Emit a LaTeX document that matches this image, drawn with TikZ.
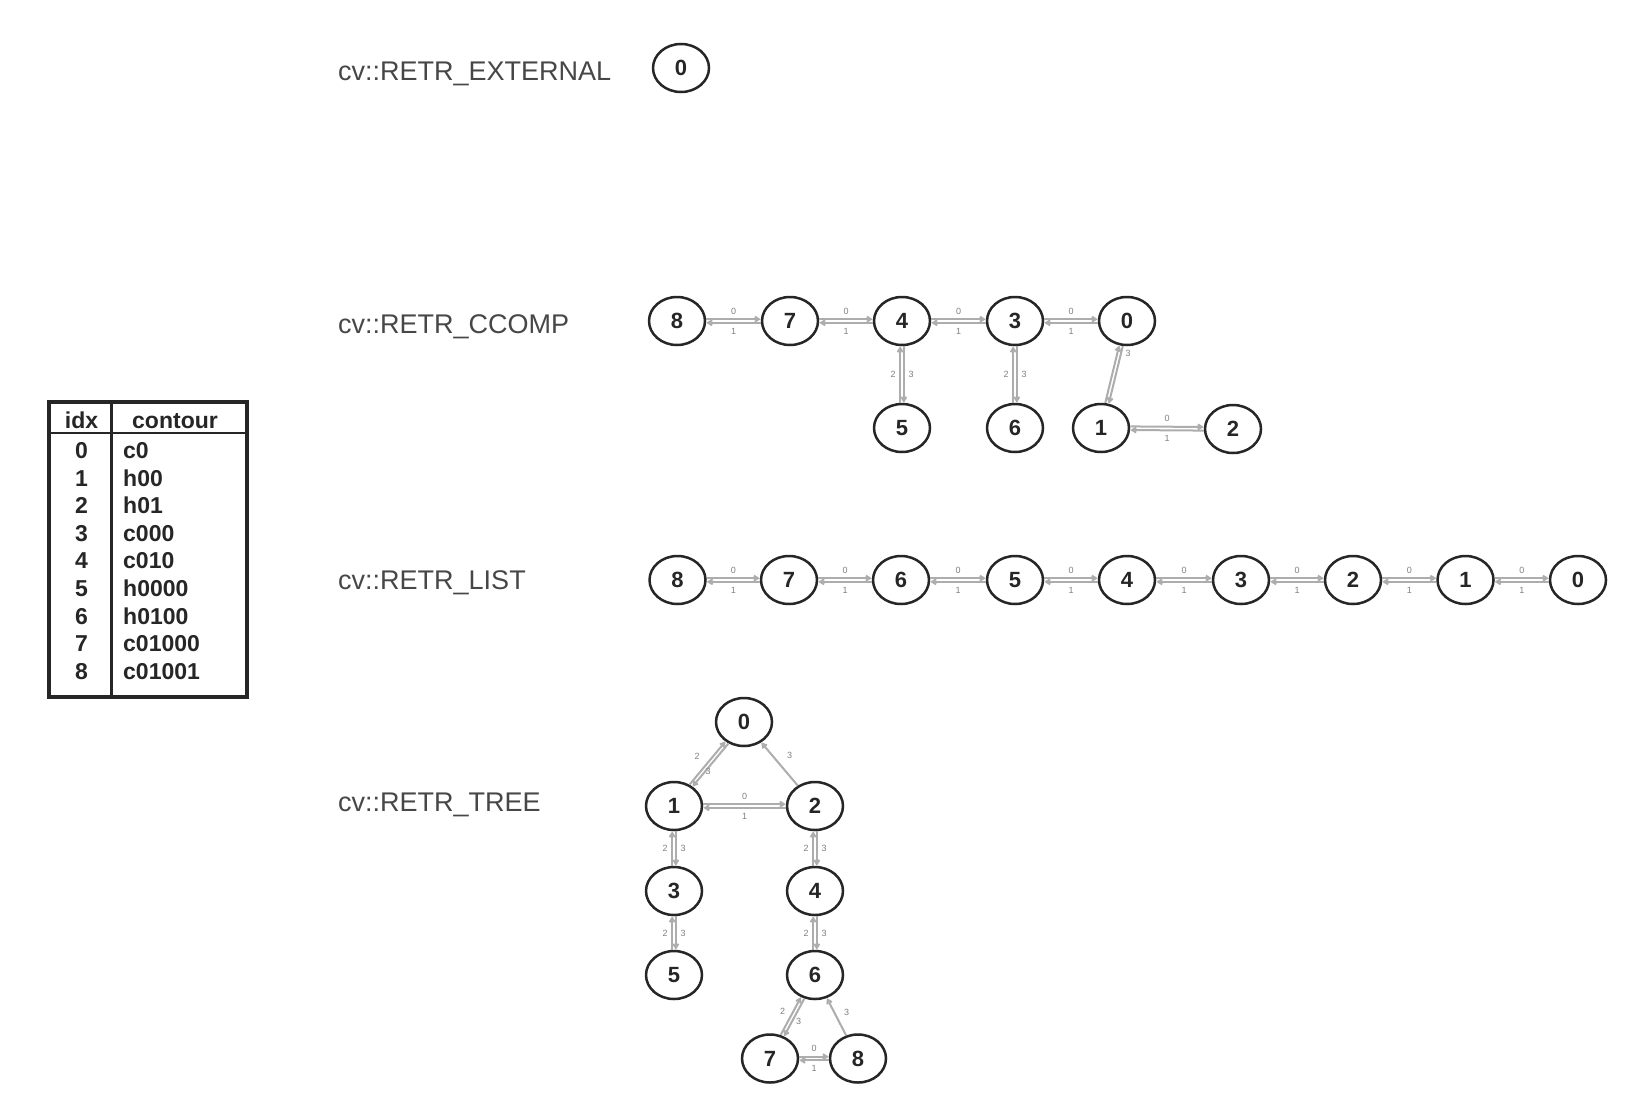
\documentclass[tikz,border=0pt]{standalone}
\usepackage{fontspec}
\setmainfont{Liberation Sans}
\usetikzlibrary{shapes.geometric,arrows.meta,calc}
\tikzset{
  nd/.style={ellipse, draw=black!85, line width=2.5pt, minimum width=56pt, minimum height=48pt, inner sep=0pt, font=\fontsize{22}{22}\selectfont\bfseries, text=black!85},
  ln/.style={draw=black!32, line width=2pt, -{Straight Barb[length=4pt,width=5pt]}},
  lb/.style={font=\fontsize{9}{9}\selectfont, text=black!50, inner sep=0.5pt},
  ttl/.style={anchor=base west, font=\fontsize{27}{27}\selectfont, text=black!72, inner sep=0pt},
  tb/.style={font=\fontsize{23}{23}\selectfont\bfseries, text=black!85, inner sep=0pt},
}
\newcommand\bic[4]{%
  \pgfmathsetmacro\bicx{-(#3)}\pgfmathsetmacro\bicy{-(#4)}%
  \draw[ln,transform canvas={shift={(#3,#4)}}] (#1) -- (#2);
  \draw[ln,transform canvas={shift={(\bicx,\bicy)}}] (#2) -- (#1);
}
\newcommand\hlab[2]{%
  \node[lb] (#1#2a) at ($(#1)!0.5!(#2)+(0,-10)$) {0};
  \node[lb] (#1#2b) at ($(#1)!0.5!(#2)+(0,10)$) {1};
}
\newcommand\vlab[2]{%
  \node[lb] (#1#2a) at ($(#1)!0.5!(#2)+(-9,0)$) {2};
  \node[lb] (#1#2b) at ($(#1)!0.5!(#2)+(9,0)$) {3};
}
\begin{document}
\begin{tikzpicture}[x=1pt,y=-1pt]
\useasboundingbox[fill=white] (0,0) rectangle (1632,1100);

% ---------- table ----------
\draw[line width=3.5pt, draw=black!85] (49,402) rectangle (247,697);
\draw[line width=1.8pt, draw=black!85] (49,433) -- (247,433);
\draw[line width=2.5pt, draw=black!85] (111.5,402) -- (111.5,697);
\node[tb, anchor=base] (hidx) at (81.5,428) {idx};
\node[tb, anchor=base] (hcont) at (175,428) {contour};
\foreach \i/\c [count=\k from 0] in {0/c0,1/h00,2/h01,3/c000,4/c010,5/h0000,6/h0100,7/c01000,8/c01001}{
  \pgfmathsetmacro\yy{458.5+27.6*\k}
  \node[tb, anchor=base] (ti\k) at (81.5,\yy) {\i};
  \node[tb, anchor=base west] (tc\k) at (123,\yy) {\c};
}

% ---------- titles ----------
\node[ttl] (lext) at (338,80.7) {cv::RETR\_EXTERNAL};
\node[ttl] (lccomp) at (338,333.7) {cv::RETR\_CCOMP};
\node[ttl] (llist) at (338,589.7) {cv::RETR\_LIST};
\node[ttl] (ltree) at (338,811) {cv::RETR\_TREE};

% ---------- EXTERNAL ----------
\node[nd] (e0) at (681,68) {0};

% ---------- CCOMP ----------
\node[nd] (c8) at (677,321) {8};
\node[nd] (c7) at (790,321) {7};
\node[nd] (c4) at (902,321) {4};
\node[nd] (c3) at (1015,321) {3};
\node[nd] (c0) at (1127,321) {0};
\node[nd] (c5) at (902,428) {5};
\node[nd] (c6) at (1015,428) {6};
\node[nd] (c1) at (1101,428) {1};
\node[nd] (c2) at (1233,429) {2};
\bic{c8}{c7}{0}{-1.8} \hlab{c8}{c7}
\bic{c7}{c4}{0}{-1.8} \hlab{c7}{c4}
\bic{c4}{c3}{0}{-1.8} \hlab{c4}{c3}
\bic{c3}{c0}{0}{-1.8} \hlab{c3}{c0}
\bic{c1}{c2}{0}{-1.8} \hlab{c1}{c2}
\bic{c4}{c5}{1.8}{0} \vlab{c4}{c5}
\bic{c3}{c6}{1.8}{0} \vlab{c3}{c6}
\bic{c0}{c1}{1.75}{0.42}
\node[lb] (c0c1b) at ($(c0)!0.3!(c1)+(9,0)$) {3};

% ---------- LIST ----------
\node[nd] (l8) at (677.5,580) {8};
\node[nd] (l7) at (789,580) {7};
\node[nd] (l6) at (901,580) {6};
\node[nd] (l5) at (1015,580) {5};
\node[nd] (l4) at (1127,580) {4};
\node[nd] (l3) at (1241,580) {3};
\node[nd] (l2) at (1353,580) {2};
\node[nd] (l1) at (1465.5,580) {1};
\node[nd] (l0) at (1578,580) {0};
\foreach \a/\b in {l8/l7,l7/l6,l6/l5,l5/l4,l4/l3,l3/l2,l2/l1,l1/l0}{
  \bic{\a}{\b}{0}{-1.8}
  \hlab{\a}{\b}
}

% ---------- TREE ----------
\node[nd] (t0) at (744,722) {0};
\node[nd] (t1) at (674,806) {1};
\node[nd] (t2) at (815,806) {2};
\node[nd] (t3) at (674,891) {3};
\node[nd] (t4) at (815,891) {4};
\node[nd] (t5) at (674,975) {5};
\node[nd] (t6) at (815,975) {6};
\node[nd] (t7) at (770,1058.5) {7};
\node[nd] (t8) at (858,1058.5) {8};
\bic{t0}{t1}{1.35}{1.15}
\node[lb] (t0t1a) at ($(t0)!0.5!(t1)+(-12,-8)$) {2};
\node[lb] (t0t1b) at ($(t0)!0.5!(t1)+(-1,7)$) {3};
\draw[ln] (t2) -- (t0);
\node[lb] (t0t2b) at ($(t0)!0.5!(t2)+(10,-9)$) {3};
\bic{t1}{t2}{0}{-1.8} \hlab{t1}{t2}
\bic{t1}{t3}{1.8}{0} \vlab{t1}{t3}
\bic{t3}{t5}{1.8}{0} \vlab{t3}{t5}
\bic{t2}{t4}{1.8}{0} \vlab{t2}{t4}
\bic{t4}{t6}{1.8}{0} \vlab{t4}{t6}
\bic{t6}{t7}{1.6}{0.85}
\node[lb] (t6t7a) at ($(t6)!0.5!(t7)+(-10,-5)$) {2};
\node[lb] (t6t7b) at ($(t6)!0.5!(t7)+(6,5)$) {3};
\draw[ln] (t8) -- (t6);
\node[lb] (t6t8b) at ($(t6)!0.5!(t8)+(10,-4)$) {3};
\bic{t7}{t8}{0}{-1.8} \hlab{t7}{t8}
\end{tikzpicture}
\end{document}
